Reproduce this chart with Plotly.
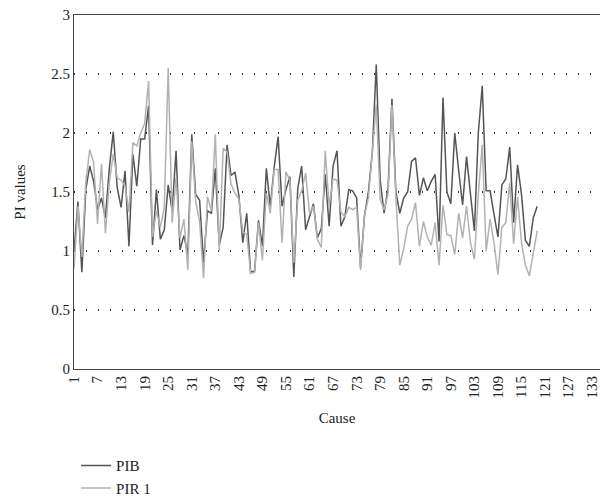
import plotly.graph_objects as go

causes = list(range(1, 120))

pib = [1.00, 1.42, 0.82, 1.52, 1.72, 1.59, 1.35, 1.45, 1.28, 1.70,
       2.01, 1.54, 1.37, 1.68, 1.04, 1.82, 1.55, 1.95, 1.95, 2.23,
       1.05, 1.52, 1.10, 1.18, 1.56, 1.34, 1.85, 1.01, 1.13, 0.97,
       1.99, 1.48, 1.43, 0.90, 1.34, 1.32, 1.70, 1.05, 1.20, 1.90,
       1.64, 1.67, 1.47, 1.07, 1.32, 0.82, 0.83, 1.26, 1.04, 1.70,
       1.38, 1.71, 1.97, 1.38, 1.52, 1.63, 0.78, 1.53, 1.72, 1.18,
       1.29, 1.40, 1.11, 1.19, 1.65, 1.21, 1.72, 1.85, 1.21, 1.29,
       1.52, 1.51, 1.45, 0.86, 1.30, 1.50, 1.84, 2.58, 1.60, 1.32,
       1.53, 2.29, 1.50, 1.32, 1.45, 1.50, 1.76, 1.79, 1.47, 1.62,
       1.51, 1.59, 1.65, 1.08, 2.30, 1.50, 1.40, 2.00, 1.68, 1.39,
       1.80, 1.51, 1.17, 2.00, 2.40, 1.51, 1.51, 1.31, 1.12, 1.56,
       1.61, 1.88, 1.24, 1.73, 1.48, 1.09, 1.04, 1.28, 1.38]

pir1 = [0.85, 1.38, 0.95, 1.58, 1.86, 1.75, 1.23, 1.74, 1.15, 1.58,
        1.82, 1.62, 1.60, 1.55, 1.33, 1.92, 1.89, 2.00, 2.08, 2.44,
        1.12, 1.34, 1.20, 1.37, 2.55, 1.24, 1.62, 1.11, 1.27, 0.84,
        1.93, 1.42, 1.25, 0.77, 1.46, 1.34, 1.99, 1.00, 1.87, 1.84,
        1.57, 1.49, 1.44, 1.16, 1.14, 0.81, 0.82, 1.24, 0.92, 1.49,
        1.32, 1.69, 1.69, 1.07, 1.67, 1.60, 0.90, 1.43, 1.51, 1.66,
        1.32, 1.38, 1.10, 1.03, 1.85, 1.38, 1.61, 1.60, 1.33, 1.29,
        1.37, 1.35, 1.37, 0.84, 1.30, 1.45, 1.84, 2.24, 1.44, 1.35,
        1.48, 2.24, 1.45, 0.88, 1.02, 1.21, 1.27, 1.41, 1.04, 1.25,
        1.12, 1.05, 1.24, 0.88, 1.39, 1.14, 1.13, 0.97, 1.32, 1.11,
        1.38, 1.07, 0.93, 1.48, 1.90, 1.00, 1.27, 1.07, 0.80, 1.20,
        1.24, 1.58, 1.06, 1.46, 1.07, 0.88, 0.79, 1.00, 1.17]

x_tick_vals = list(range(1, 134, 6))
y_tick_vals = [0, 0.5, 1, 1.5, 2, 2.5, 3]
y_tick_text = ["0", "0.5", "1", "1.5", "2", "2.5", "3"]

font_family = "Liberation Serif"

fig = go.Figure()
fig.add_trace(go.Scatter(x=causes, y=pib, mode="lines", name="PIB",
                         line=dict(color="#555555", width=1.5)))
fig.add_trace(go.Scatter(x=causes, y=pir1, mode="lines", name="PIR 1",
                         line=dict(color="#b2b2b2", width=1.5)))

fig.update_layout(
    width=600, height=503,
    margin=dict(l=74, r=0, t=15, b=134, autoexpand=False),
    paper_bgcolor="white", plot_bgcolor="white",
    font=dict(family=font_family, size=15, color="#222222"),
    showlegend=True,
    legend=dict(x=0.004, y=-0.227, xanchor="left", yanchor="top",
                orientation="v", font=dict(size=15, family=font_family),
                tracegroupgap=0, itemwidth=30),
)

fig.update_xaxes(
    range=[1, 135], tickmode="array", tickvals=x_tick_vals,
    ticktext=[str(v) for v in x_tick_vals], tickangle=-90,
    ticklabeloverflow="allow",
    showgrid=False, zeroline=False,
    showline=True, linecolor="#444444", linewidth=1, mirror=True,
    ticks="", ticklen=0, automargin=False,
    title=dict(text="Cause", font=dict(size=15, family=font_family), standoff=14),
    tickfont=dict(size=15, family=font_family),
)

fig.update_yaxes(
    range=[0, 3], tickmode="array", tickvals=y_tick_vals, ticktext=y_tick_text,
    showgrid=True, gridcolor="#333333", gridwidth=1.5, griddash="1px,11px",
    zeroline=False,
    showline=True, linecolor="#444444", linewidth=1, mirror=True,
    ticks="", automargin=False,
    title=dict(text="PI values", font=dict(size=15, family=font_family), standoff=22),
    tickfont=dict(size=15, family=font_family),
)

fig.write_html(
    "out.html",
    config={"displayModeBar": False},
    post_script="document.body.style.margin='0';document.body.style.overflow='hidden';",
)
